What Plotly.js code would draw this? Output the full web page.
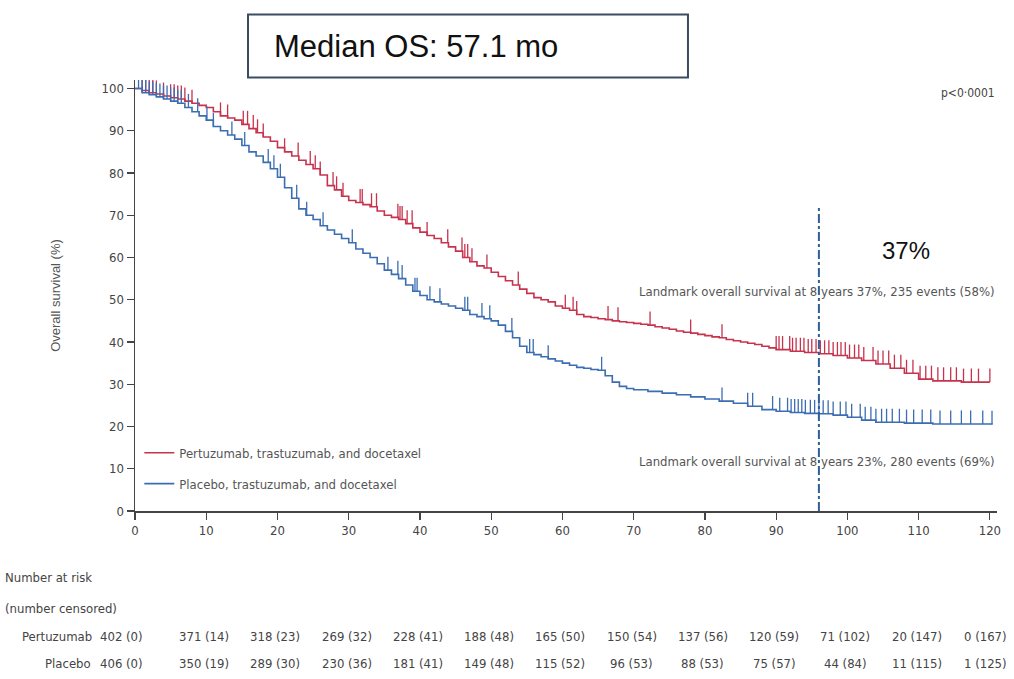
<!DOCTYPE html>
<html>
<head>
<meta charset="utf-8">
<script src="https://cdn.plot.ly/plotly-3.0.1.min.js"></script>
<style>html,body{margin:0;padding:0;background:#fff;}#chart{width:1014px;height:679px;}</style>
</head>
<body>
<div id="chart"></div>
<script>
// ---- data ----
const seriesNames = ["Pertuzumab, trastuzumab, and docetaxel", "Placebo, trastuzumab, and docetaxel"];
const riskLabels = ["Pertuzumab", "Placebo"];
const riskHeader = ["Number at risk", "(number censored)"];

const pertTime = [0,1,2,3,4,5,6,7,8,9,10,11,12,13,14,15,16,17,18,19,20,21,22,23,24,25,26,27,28,29,30,31,32,33,34,35,36,37,38,39,40,41,42,43,44,45,46,47,48,49,50,51,52,53,54,55,56,57,58,59,60,61,62,63,64,65,66,67,68,69,70,71,72,73,74,75,76,77,78,79,80,81,82,83,84,85,86,87,88,89,90,92,94,96,98,100,102,104,106,108,110,112,116,120];
const pertSurv = [100,99.5,99,98.7,98.2,97.8,97.5,97,96.5,96,95.5,94.5,93.5,93,92.5,91.5,90.5,89.5,88.5,87.5,86,85,84,83,82,81,79.5,77,76,74.5,73.5,73,72.5,72,71,70,69.5,69,68,67,66,65.2,64.5,63.5,62.5,61.5,60,59,58,57.5,56.5,55.5,54.5,53.5,52.5,51.5,50.5,50,49.5,48.5,48,47.5,46.5,46,45.8,45.5,45.3,45,44.8,44.6,44.4,44.2,44,43.6,43.3,43,42.6,42.3,42.1,41.8,41.5,41.2,41,40.6,40.3,40,39.7,39.4,39,38.6,38.2,37.8,37.5,37.2,36.8,36.2,35.6,34.8,33.8,32.6,31.2,30.8,30.5,30.5];

const placTime = [0,1,2,3,4,5,6,7,8,9,10,11,12,13,14,15,16,17,18,19,20,21,22,23,24,25,26,27,28,29,30,31,32,33,34,35,36,37,38,39,40,41,42,43,44,45,46,47,48,49,50,51,52,53,54,55,56,57,58,59,60,61,62,63,64,65,66,67,68,69,70,72,74,76,78,80,82,84,86,88,90,92,94,96,98,100,102,104,108,112,120.3];
const placSurv = [100,99,98.5,98,97.5,97,96.5,95.5,94.5,93.5,92.5,91,90,89,88,86.5,85,84,82.5,81,79,76.5,74,71.5,70,69,67.5,66.5,65.5,64.5,63.5,62,61,60,58.5,57,56,55,53.5,52,51,50,49.5,49,48.5,48,47.5,46.5,46,45.5,45,44,42.5,41,39,37.5,37,36.5,36,35.5,35,34.5,34,33.8,33.5,33.3,32,30.5,29.5,29,28.7,28.3,27.9,27.5,27,26.5,26,25.5,24.8,24,23.6,23.3,23.1,23,22.7,22.2,21.5,21,20.8,20.6,20.5];

const pertCensor = [1,1.5,2,2.5,3,4,5,5.5,6,6.5,7,8,12,13,15.2,15.8,16.6,17.2,18,21,22.9,24.6,25.3,26,27.8,28.3,29.2,31.6,31.9,33.2,33.9,36.9,37.2,37.5,38.2,38.9,41,43.9,45.9,46.3,46.7,47.3,49.4,53.8,60.4,61.5,62,66.4,67.8,72.3,78,82.4,90,90.4,90.9,91.9,92.3,92.8,93.4,93.9,94.5,95,95.6,96.2,96.8,97.4,98,98.6,99.1,99.7,100.3,101,101.6,102.3,103.6,104.3,105,105.8,106.6,107.5,108.3,109.2,110.2,111,111.8,112.7,113.5,114.5,115.3,116.3,117.4,118.4,120];
const placCensor = [0.5,1,1.5,2,2.5,3,3.5,4,4.5,5,5.5,6,6.5,7.5,8.8,10.1,11,13.6,15.4,18.7,19.5,20.4,22.7,24.1,26.4,30.5,35.5,36.9,37.5,39.3,39.6,41.4,42.8,46.3,46.7,48.7,49.8,52.9,55.4,55.9,58,65.5,82.4,86,86.7,89.5,90.5,91.6,92.1,92.6,93.1,93.6,94.1,94.8,95.4,96,96.6,97.3,98,99,99.8,100.6,101.8,102.5,103.3,104,104.8,105.5,106.3,107.3,108.3,109.3,110.5,111.7,113,114.5,116,117.3,119,120.3];

const riskMonths = [0,10,20,30,40,50,60,70,80,90,100,110,120];
const pertRisk = ["402 (0)","371 (14)","318 (23)","269 (32)","228 (41)","188 (48)","165 (50)","150 (54)","137 (56)","120 (59)","71 (102)","20 (147)","0 (167)"];
const placRisk = ["406 (0)","350 (19)","289 (30)","230 (36)","181 (41)","149 (48)","115 (52)","96 (53)","88 (53)","75 (57)","44 (84)","11 (115)","1 (125)"];

const landmarkMonth = 96;
const medianText = "Median OS: 57.1 mo";
const pText = "p<0·0001";
const bigPct = "37%";
const landmarkPert = "Landmark overall survival at 8 years 37%, 235 events (58%)";
const landmarkPlac = "Landmark overall survival at 8 years 23%, 280 events (69%)";

// ---- build ----
const RED = "#c7324c", BLUE = "#3b6db3";
const NARROW = "'Liberation Sans Narrow', 'Arial Narrow', 'DejaVu Sans Condensed', sans-serif";

function stepAt(times, vals, t) {
  let v = vals[0];
  for (let i = 0; i < times.length; i++) { if (times[i] <= t) v = vals[i]; else break; }
  return v;
}

function curve(times, vals, color, name, group) {
  return {x: times, y: vals, type: "scatter", mode: "lines", line: {shape: "hv", color: color, width: 1.6},
          name: name, legendgroup: group, showlegend: true, hoverinfo: "skip"};
}
function censor(times, sT, sV, color, group) {
  return {x: times, y: times.map(t => stepAt(sT, sV, t)), type: "scatter", mode: "markers",
          marker: {size: 1, color: color, opacity: 0}, legendgroup: group, showlegend: false, hoverinfo: "skip",
          error_y: {type: "constant", symmetric: false, value: 3.2, valueminus: 0, color: color, thickness: 1.3, width: 0}};
}

const data = [
  curve(pertTime, pertSurv, RED, seriesNames[0], "g1"),
  censor(pertCensor, pertTime, pertSurv, RED, "g1"),
  curve(placTime, placSurv, BLUE, seriesNames[1], "g2"),
  censor(placCensor, placTime, placSurv, BLUE, "g2")
];

const ann = [];
const tableFont = {family: NARROW, size: 13, color: "#444"};
riskMonths.forEach((m, i) => {
  const xs = i === 0 ? -14 : (i === riskMonths.length - 1 ? -4 : -2);
  ann.push({x: m, y: -0.292, xref: "x", yref: "paper", text: pertRisk[i], showarrow: false,
            xanchor: "center", yanchor: "middle", font: tableFont, xshift: xs});
  ann.push({x: m, y: -0.3546, xref: "x", yref: "paper", text: placRisk[i], showarrow: false,
            xanchor: "center", yanchor: "middle", font: tableFont, xshift: xs});
});
ann.push({x: -0.047, y: -0.292, xref: "paper", yref: "paper", text: riskLabels[0], showarrow: false, xanchor: "right", yanchor: "middle", font: tableFont});
ann.push({x: -0.049, y: -0.3546, xref: "paper", yref: "paper", text: riskLabels[1], showarrow: false, xanchor: "right", yanchor: "middle", font: tableFont});
ann.push({x: -0.153, y: -0.155, xref: "paper", yref: "paper", text: riskHeader[0], showarrow: false, xanchor: "left", yanchor: "middle", font: tableFont});
ann.push({x: -0.153, y: -0.227, xref: "paper", yref: "paper", text: riskHeader[1], showarrow: false, xanchor: "left", yanchor: "middle", font: tableFont});

ann.push({x: 1.0, y: 0.97, xref: "paper", yref: "paper", text: pText, showarrow: false, xanchor: "right", yanchor: "middle", font: {family: NARROW, size: 12, color: "#444"}});
ann.push({x: 0.895, y: 0.605, xref: "paper", yref: "paper", text: bigPct, showarrow: false, xanchor: "center", yanchor: "middle", font: {family: "Liberation Sans, Arial, sans-serif", size: 24, color: "#111"}});
ann.push({x: 1.0, y: 0.51, xref: "paper", yref: "paper", text: landmarkPert, showarrow: false, xanchor: "right", yanchor: "middle", font: {family: NARROW, size: 13, color: "#555"}});
ann.push({x: 1.0, y: 0.116, xref: "paper", yref: "paper", text: landmarkPlac, showarrow: false, xanchor: "right", yanchor: "middle", font: {family: NARROW, size: 13, color: "#555"}});
ann.push({x: 0.159, y: 1.0788, xref: "paper", yref: "paper", text: medianText, showarrow: false, xanchor: "left", yanchor: "middle", font: {family: "Liberation Sans, Arial, sans-serif", size: 31, color: "#111"}});

const layout = {
  width: 1014, height: 679,
  margin: {l: 135, r: 17, t: 79.5, b: 168},
  paper_bgcolor: "#fff", plot_bgcolor: "#fff",
  showlegend: true,
  legend: {x: 0.005, y: 0.17, xanchor: "left", yanchor: "top", bgcolor: "rgba(0,0,0,0)",
           font: {family: NARROW, size: 13, color: "#555"}, traceorder: "grouped", tracegroupgap: 11, itemwidth: 30},
  xaxis: {range: [0, 121], tickmode: "array", tickvals: riskMonths, ticks: "outside", ticklen: 7, tickwidth: 1.2, tickcolor: "#444",
          showline: true, linecolor: "#444", linewidth: 1.5, showgrid: false, zeroline: false,
          tickfont: {family: NARROW, size: 13, color: "#444"}},
  yaxis: {range: [0, 102], tickmode: "array", tickvals: [0,10,20,30,40,50,60,70,80,90,100], ticks: "outside", ticklen: 7, tickwidth: 1.2, tickcolor: "#444",
          showline: true, linecolor: "#444", linewidth: 1.5, showgrid: false, zeroline: false,
          tickfont: {family: NARROW, size: 13, color: "#444"},
          title: {text: "Overall survival (%)", standoff: 38, font: {family: "Liberation Sans, Arial, sans-serif", size: 13, color: "#555"}}},
  shapes: [
    {type: "line", xref: "x", yref: "y", x0: landmarkMonth, x1: landmarkMonth, y0: 0, y1: 72, line: {color: "#2f5f96", width: 2, dash: "dashdot"}},
    {type: "rect", xref: "paper", yref: "paper", x0: 0.1311, x1: 0.6415, y0: 1.0058, y1: 1.1518, line: {color: "#3a4b63", width: 2}, fillcolor: "rgba(0,0,0,0)"}
  ],
  annotations: ann
};

Plotly.newPlot("chart", data, layout, {staticPlot: true});
</script>
</body>
</html>
